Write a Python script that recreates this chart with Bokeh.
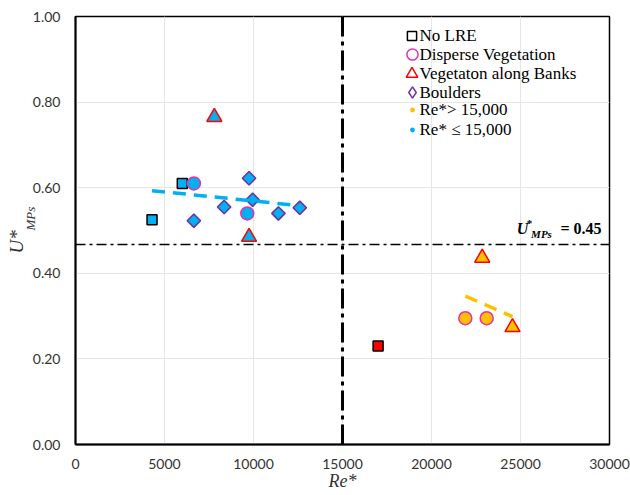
import numpy as np
from bokeh.plotting import figure
from bokeh.models import (Range1d, FixedTicker, PrintfTickFormatter, Span, Label,
                          Legend, LegendItem, Title)
from bokeh.embed import file_html
from bokeh.resources import INLINE

# ---------------- data ----------------
no_lre_re = [4300, 6000, 17000]
no_lre_u = [0.525, 0.610, 0.230]
disperse_re = [6650, 9650, 21900, 23100]
disperse_u = [0.610, 0.540, 0.295, 0.295]
banks_re = [7800, 9750, 22850, 24550]
banks_u = [0.765, 0.485, 0.436, 0.274]
boulders_re = [6650, 8350, 9750, 9950, 11400, 12600]
boulders_u = [0.523, 0.555, 0.622, 0.572, 0.540, 0.553]

re_threshold = 15000
u_threshold_drawn = 0.467
u_threshold_text = "= 0.45"

x_ticks = [0, 5000, 10000, 15000, 20000, 25000, 30000]
y_ticks = [0.0, 0.2, 0.4, 0.6, 0.8, 1.0]

legend_shape_labels = ["No LRE", "Disperse Vegetation", "Vegetaton along Banks", "Boulders"]
legend_dot_labels = ["Re*> 15,000", "Re* \u2264 15,000"]

# ---------------- styles ----------------
BLUE = "#00B0F0"
ORANGE = "#FFC000"
RED = "#FF0000"
MAGENTA = "#E532A8"
PURPLE = "#7030A0"
SERIF = "Liberation Serif"
NAN = [float("nan")]

FL, FR, FT, FB = 75, 609, 16, 444   # frame edges in canvas pixels

p = figure(width=630, height=495, output_backend="svg", toolbar_location=None,
           x_range=Range1d(0, 30000), y_range=Range1d(0, 1.0),
           min_border_left=FL, min_border_right=630 - FR, min_border_top=FT,
           min_border_bottom=495 - FB)
p.background_fill_color = "white"
p.border_fill_color = "white"
p.outline_line_color = "black"
p.outline_line_width = 1.5

for ax in (p.xaxis[0], p.yaxis[0]):
    ax.axis_line_color = "black"
    ax.axis_line_width = 2
    ax.major_tick_out = 0
    ax.major_tick_in = 0
    ax.minor_tick_out = 0
    ax.minor_tick_in = 0
    ax.major_label_text_font = "Lato"
    ax.major_label_text_font_size = "14px"
    ax.major_label_text_color = "#333333"

p.xaxis.ticker = FixedTicker(ticks=x_ticks)
p.yaxis.ticker = FixedTicker(ticks=y_ticks)
p.yaxis.formatter = PrintfTickFormatter(format="%.2f")
p.xaxis.major_label_standoff = 14
p.yaxis.major_label_standoff = 15

p.xaxis.axis_label = "Re*"
p.xaxis.axis_label_text_font = SERIF
p.xaxis.axis_label_text_font_style = "italic"
p.xaxis.axis_label_text_font_size = "18px"
p.xaxis.axis_label_text_color = "#333333"
p.xaxis.axis_label_standoff = -1

# y-axis title U*_MPs: subscript panel next to the axis, then the main symbol
p.add_layout(Title(text="MPs", align="left", offset=FB - 230, vertical_align="bottom",
                   standoff=-16, text_font=SERIF, text_font_style="italic",
                   text_font_size="13px", text_color="#333333"), "left")
p.add_layout(Title(text="U*", align="left", offset=FB - 253, vertical_align="bottom",
                   standoff=4, text_font=SERIF, text_font_style="italic",
                   text_font_size="19px", text_color="#333333"), "left")

p.xgrid.ticker = FixedTicker(ticks=x_ticks)
p.ygrid.ticker = FixedTicker(ticks=y_ticks)
p.xgrid.grid_line_color = "#E6E6E6"
p.ygrid.grid_line_color = "#E6E6E6"

# reference lines
p.add_layout(Span(location=re_threshold, dimension="height", line_color="black",
                  line_width=3, line_dash="20 5 4 5"))
p.add_layout(Span(location=u_threshold_drawn, dimension="width", line_color="black",
                  line_width=1.5, line_dash="10 4 3 4"))


def fills(xs, high_color):
    return [BLUE if x <= re_threshold else high_color for x in xs]


# data markers
p.scatter(no_lre_re, no_lre_u, marker="square", size=10,
          fill_color=fills(no_lre_re, RED), line_color="black", line_width=1.5)
p.scatter(disperse_re, disperse_u, marker="circle", size=13,
          fill_color=fills(disperse_re, ORANGE), line_color=MAGENTA, line_width=1.5)
p.scatter(banks_re, banks_u, marker="triangle", size=15,
          fill_color=fills(banks_re, ORANGE), line_color=RED, line_width=1.5)
p.scatter(boulders_re, boulders_u, marker="square", angle=np.pi / 4, size=9.5,
          fill_color=fills(boulders_re, ORANGE), line_color=PURPLE, line_width=1.5)

# linear trend lines for the two Re* groups
all_x = np.array(no_lre_re + disperse_re + banks_re + boulders_re, dtype=float)
all_y = np.array(no_lre_u + disperse_u + banks_u + boulders_u, dtype=float)
lo = all_x <= re_threshold
hx = np.array(disperse_re + banks_re, dtype=float)
hy = np.array(disperse_u + banks_u, dtype=float)
hi = hx > re_threshold

for gx, gy, col in ((all_x[lo], all_y[lo], BLUE), (hx[hi], hy[hi], ORANGE)):
    k, b = np.polyfit(gx, gy, 1)
    xs = np.array([gx.min(), gx.max()])
    p.line(xs, k * xs + b, line_color=col, line_width=3.5, line_dash="13 8")

# ---------------- legend ----------------
LEG_FS = "17px"
leg_kw = dict(padding=0, margin=0, spacing=0, border_line_color=None,
              background_fill_alpha=0, label_text_font=SERIF,
              label_text_font_size=LEG_FS, label_text_color="black")
row_h = 19
top0 = 25.5
glyph_cx = 411.5
text_x = 419

# rows with small dots: a regular legend
leg_or = p.scatter(NAN, NAN, marker="circle", fill_color=ORANGE, line_color=None)
leg_bl = p.scatter(NAN, NAN, marker="circle", fill_color=BLUE, line_color=None)
p.add_layout(Legend(items=[LegendItem(label=l, renderers=[r]) for l, r in
                           zip(legend_dot_labels, [leg_or, leg_bl])],
                    location=(glyph_cx - 6 - FL, FB - top0 - 6 * row_h),
                    glyph_width=12, glyph_height=row_h, label_height=row_h,
                    label_standoff=int(round(text_x - (glyph_cx + 6))), **leg_kw))

# rows with the larger open shape symbols: symbol legend + text label per row
shape_specs = [(dict(marker="square", line_color="black"), 23),
               (dict(marker="circle", line_color=MAGENTA), 28),
               (dict(marker="triangle", line_color=RED), 29),
               (dict(marker="diamond", line_color=PURPLE), 28)]
for i, ((kw, d), lab) in enumerate(zip(shape_specs, legend_shape_labels)):
    r = p.scatter(NAN, NAN, fill_color=None, line_width=1.5, **kw)
    yc = top0 + row_h * (i + 0.5)
    p.add_layout(Legend(items=[LegendItem(label=" ", renderers=[r])],
                        location=(glyph_cx - d / 2 - FL, FB - (yc + d / 2)),
                        glyph_width=d, glyph_height=d, label_height=d, label_standoff=0,
                        **leg_kw))
    p.add_layout(Label(x=0, y=1.0, x_offset=text_x - FL, y_offset=-(yc - FT), text=lab,
                       text_font=SERIF, text_font_size=LEG_FS, text_align="left",
                       text_baseline="middle", text_color="black"))

# threshold annotation U*_MPs = 0.45
ann = [("U", "16px", "bold italic", -87, 2, "center"),
       ("*", "11px", "bold", -80, 8, "center"),
       ("MPs", "11px", "bold italic", -68, -3, "center"),
       (u_threshold_text, "16px", "bold", -49, 2, "left")]
for txt, fs, st, xo, yo, al in ann:
    p.add_layout(Label(x=30000, y=0.5, x_offset=xo, y_offset=yo, text=txt,
                       text_font=SERIF, text_font_style=st, text_font_size=fs,
                       text_align=al, text_baseline="middle", text_color="black"))

open("out.html", "w").write(file_html(p, INLINE))
